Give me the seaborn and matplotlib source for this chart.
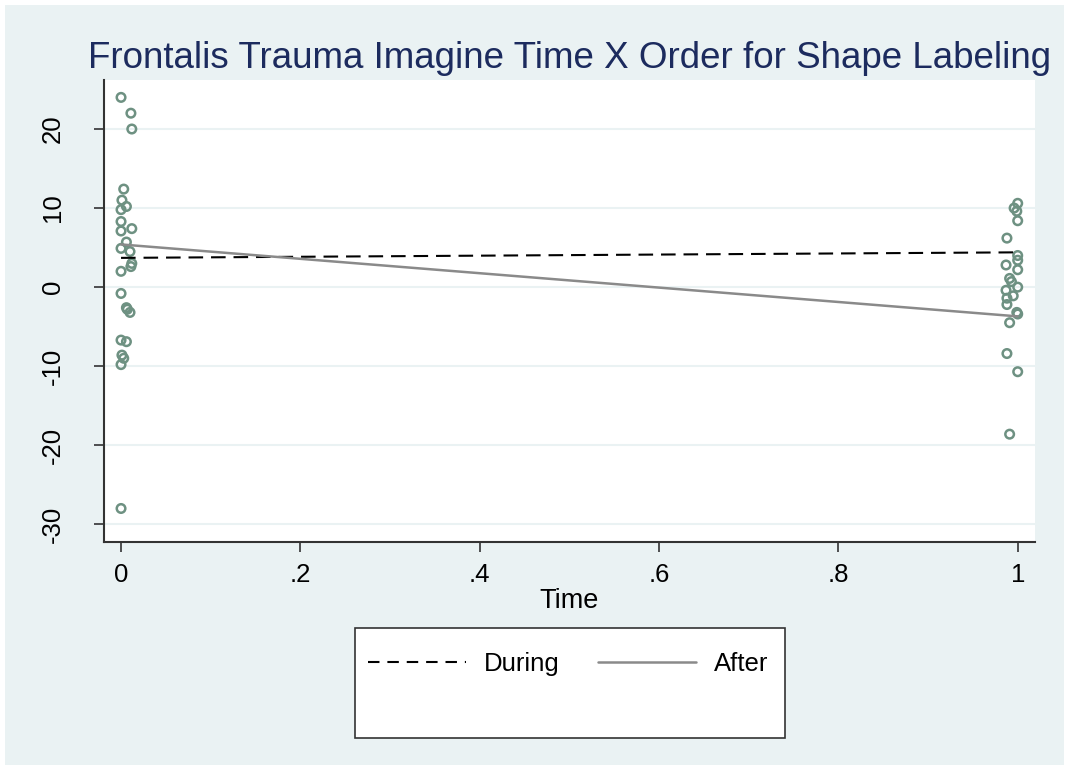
import numpy as np
import pandas as pd
import matplotlib
matplotlib.use("Agg")
import matplotlib.pyplot as plt
from matplotlib.patches import Rectangle
from matplotlib.lines import Line2D
import seaborn as sns

# ---- data ----
time_pts = [0.000, 0.011, 0.012, 0.003, 0.001, 0.006, 0.000, 0.000, 0.000, 0.012,
            0.006, 0.000, 0.010, 0.012, 0.011, 0.000, 0.000, 0.006, 0.007, 0.010,
            0.000, 0.006, 0.001, 0.003, 0.000, 0.000,
            1.000, 0.996, 0.999, 1.000, 0.988, 1.000, 1.000, 0.987, 1.000, 0.991,
            0.993, 1.000, 0.987, 0.995, 0.988, 0.988, 0.999, 1.000, 0.991, 0.988,
            1.000, 0.991]
value_pts = [24.0, 22.0, 20.0, 12.4, 11.0, 10.2, 9.8, 8.3, 7.1, 7.4,
             5.7, 4.9, 4.5, 3.0, 2.6, 2.0, -0.8, -2.6, -2.8, -3.2,
             -6.7, -6.9, -8.6, -9.0, -9.8, -28.0,
             10.6, 10.0, 9.6, 8.4, 6.2, 4.0, 3.4, 2.8, 2.2, 1.1,
             0.7, 0.0, -0.4, -1.1, -1.4, -2.2, -3.2, -3.4, -4.5, -8.4,
             -10.7, -18.6]
line_time = [0.0, 1.0]
during_fit = [3.7, 4.4]
after_fit = [5.4, -3.7]

x_ticks = [0, 0.2, 0.4, 0.6, 0.8, 1.0]
x_ticklabels = ["0", ".2", ".4", ".6", ".8", "1"]
y_ticks = [-30, -20, -10, 0, 10, 20]
y_ticklabels = ["-30", "-20", "-10", "0", "10", "20"]

title = "Frontalis Trauma Imagine Time X Order for Shape Labeling"

# ---- style ----
sns.set_style("white")
plt.rcParams["font.family"] = ["Liberation Sans", "DejaVu Sans"]
plt.rcParams["text.color"] = "black"
plt.rcParams["axes.labelcolor"] = "black"
plt.rcParams["xtick.color"] = "black"
plt.rcParams["ytick.color"] = "black"

BG = "#EAF2F3"
fig = plt.figure(figsize=(10.69, 7.70), dpi=100, facecolor="white")
fig.patches.append(Rectangle((5 / 1069, 5 / 770), 1059 / 1069, 760 / 770,
                             transform=fig.transFigure, facecolor=BG,
                             edgecolor="none", zorder=-10))

ax = fig.add_axes([104 / 1069, 1 - 542 / 770, (1035 - 104) / 1069, (542 - 80) / 770])
ax.set_facecolor("white")

scatter_df = pd.DataFrame({"Time": time_pts, "Value": value_pts})
sns.scatterplot(data=scatter_df, x="Time", y="Value", ax=ax,
                marker="o", s=38, facecolor="none", edgecolor="#6E9182",
                linewidth=1.8, zorder=3, legend=False)

lines_df = pd.DataFrame({"Time": line_time, "During": during_fit, "After": after_fit})
sns.lineplot(data=lines_df, x="Time", y="During", ax=ax, color="black",
             linewidth=1.5, zorder=4, legend=False)
ax.lines[-1].set_linestyle((0, (7, 3.8)))
sns.lineplot(data=lines_df, x="Time", y="After", ax=ax, color="#8A8A8A",
             linewidth=1.8, zorder=4, legend=False)

ax.set_xlim(-0.019, 1.0193)
ax.set_ylim(-32.24, 26.2)
ax.set_xticks(x_ticks)
ax.set_xticklabels(x_ticklabels, fontsize=18.5, color="black")
ax.set_yticks(y_ticks)
ax.set_yticklabels(y_ticklabels, fontsize=18.5, rotation=90, va="center", color="black")
ax.tick_params(axis="y", length=7, width=1.2, color="#333333", pad=21, direction="out", left=True)
ax.tick_params(axis="x", length=7, width=1.2, color="#333333", pad=8, direction="out", bottom=True)
ax.grid(axis="y", color=BG, linewidth=1.5, zorder=0)
ax.grid(axis="x", visible=False)
ax.set_axisbelow(True)
for side in ["top", "right"]:
    ax.spines[side].set_visible(False)
for side in ["left", "bottom"]:
    ax.spines[side].set_color("#333333")
    ax.spines[side].set_linewidth(1.5)

ax.set_xlabel("Time", fontsize=19.5, labelpad=1, color="black")
ax.set_ylabel("")
ax.set_title(title, fontsize=26.5, color="#1C2B5E", pad=9)

# legend box
fig.patches.append(Rectangle((355 / 1069, 1 - 738 / 770), 430 / 1069, 110 / 770,
                             transform=fig.transFigure, facecolor="white",
                             edgecolor="#333333", linewidth=1.2, zorder=1))
handles = [Line2D([], [], color="black", linewidth=1.5, linestyle=(0, (5.5, 3.8))),
           Line2D([], [], color="#8A8A8A", linewidth=1.8)]
leg = fig.legend(handles, ["During", "After"], loc="center",
                 bbox_to_anchor=(568 / 1069, 1 - 664 / 770), ncol=2,
                 frameon=False, fontsize=18.5, handlelength=3.8, handletextpad=0.7,
                 columnspacing=1.5, borderpad=0, labelcolor="black")

fig.savefig("out.png", dpi=100, facecolor="white")
